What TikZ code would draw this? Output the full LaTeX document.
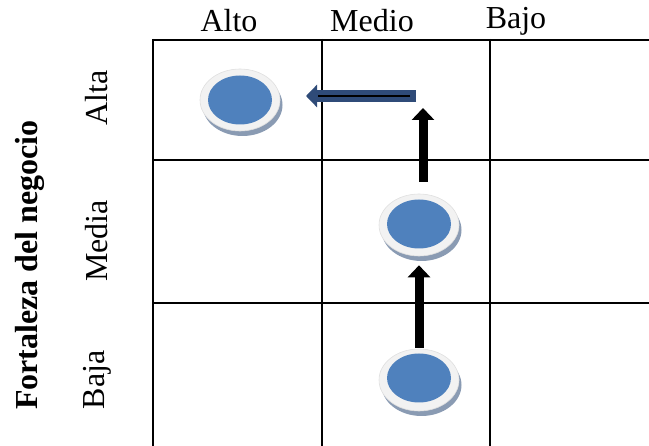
\documentclass[tikz,border=0pt]{standalone}
\usepackage{fontspec}
\setmainfont{Liberation Serif}
\usetikzlibrary{shapes.geometric,arrows.meta,shadows}
\definecolor{ballblue}{HTML}{4F81BD}
\definecolor{ringgray}{HTML}{F2F2F2}
\definecolor{shadowblue}{HTML}{8A9BB3}
\definecolor{navy}{HTML}{2F4B78}
\tikzset{
  gridline/.style={line width=2pt,black},
  lbl/.style={font=\fontsize{32}{34}\selectfont,inner sep=0pt},
  ylbl/.style={lbl,rotate=90},
  ring/.style={ellipse,minimum width=80pt,minimum height=62pt,inner sep=0pt,fill=ringgray,draw=gray!25,line width=0.6pt,
     drop shadow={shadow xshift=2.5pt,shadow yshift=-5pt,fill=shadowblue,opacity=1}},
  ball/.style={ellipse,minimum width=64pt,minimum height=49pt,inner sep=0pt,fill=ballblue},
  uparrow/.style={line width=9pt,-{Triangle[width=22pt,length=12pt]}},
  leftarrow/.style={line width=12pt,navy,-{Triangle[width=22pt,length=11pt]}},
}
\begin{document}
\begin{tikzpicture}[x=1pt,y=-1pt]
\useasboundingbox (0,0) rectangle (649,446);
% grid
\draw[gridline] (153,40) -- (649,40);
\draw[gridline] (153,160) -- (649,160);
\draw[gridline] (153,303) -- (649,303);
\draw[gridline] (153,39) -- (153,446);
\draw[gridline] (322,39) -- (322,446);
\draw[gridline] (490,39) -- (490,446);
% labels
\node[lbl] (alto) at (229,21) {Alto};
\node[lbl] (medio) at (372,21) {Medio};
\node[lbl] (bajo) at (516,21) {Bajo};
\node[ylbl] (alta) at (97,98) {Alta};
\node[ylbl] (media) at (97,241) {Media};
\node[ylbl] (baja) at (97,380) {Baja};
\node[ylbl,font=\fontsize{32}{34}\selectfont\bfseries] (fort) at (30,265) {Fortaleza del negocio};
% balls
\node[ring] (r1) at (240,100) {};
\node[ball] (b1) at (240,100) {};
\node[ring] (r2) at (419,225) {};
\node[ball] (b2) at (419,224) {};
\node[ring] (r3) at (419,380) {};
\node[ball] (b3) at (419,378) {};
% arrows
\draw[uparrow] ([yshift=1pt]r3.north) -- ([yshift=-9pt]r2.south);
\coordinate (upend) at (423,108);
\draw[uparrow] ([xshift=4pt,yshift=12pt]r2.north) -- (upend);
\coordinate (ltail) at (416,96);
\coordinate (ltip) at (306,96);
\draw[leftarrow] (ltail) -- (ltip);
\draw[line width=2.2pt,black] (410,96) -- (318,96);
\end{tikzpicture}
\end{document}
